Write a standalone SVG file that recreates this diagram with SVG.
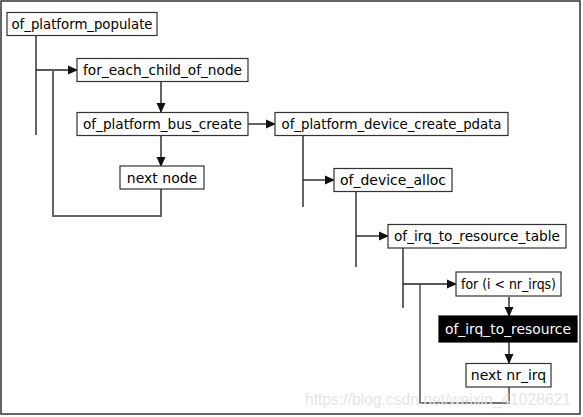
<svg xmlns="http://www.w3.org/2000/svg" width="583" height="417" viewBox="0 0 583 417">
<defs>
<marker id="ah" markerWidth="10" markerHeight="10" refX="9" refY="5" orient="auto" markerUnits="userSpaceOnUse">
<path d="M0,0.5 L10,5 L0,9.5 Z" fill="#111"/>
</marker>
<style>
.box{fill:#fff;stroke:#333;stroke-width:1.2}
.dark{fill:#000;stroke:#000}
.t{font-family:"DejaVu Sans","Liberation Sans",sans-serif;font-size:14px;fill:#000;text-anchor:middle;dominant-baseline:central}
.w{fill:#fff}
.c{fill:none;stroke:#444;stroke-width:1.4}
.g{fill:none;stroke:#666;stroke-width:2}
.a{fill:none;stroke:#222;stroke-width:1.4;marker-end:url(#ah)}
.wm{font-family:"Liberation Sans",Arial,sans-serif;font-size:16px;fill:#e6e6e6}
</style>
</defs>
<rect x="1" y="1" width="579" height="413" fill="#fff" stroke="#333" stroke-width="1.5"/>
<g id="connectors">
<path class="g" d="M36,36 V135"/>
<path class="a" d="M36,70 H77"/>
<path class="g" d="M53,70 V216 H161 V189"/>
<path class="a" d="M161,82 V112"/>
<path class="a" d="M161,136 V166"/>
<path class="a" d="M248,124 H275"/>
<path class="g" d="M303,136 V207"/>
<path class="a" d="M303,180 H334"/>
<path class="g" d="M356,192 V267"/>
<path class="a" d="M356,236 H388"/>
<path class="g" d="M403,248 V308"/>
<path class="a" d="M403,284 H456"/>
<path class="c" d="M420,284 V403 H509 V387"/>
<path class="a" d="M509,297 V316"/>
<path class="a" d="M509,342 V363"/>
</g>
<g id="of_platform_populate"><rect class="box" x="7" y="12.5" width="150" height="23"/><text class="t" x="82" y="24" textLength="141" lengthAdjust="spacingAndGlyphs">of_platform_populate</text></g>
<g id="for_each_child_of_node"><rect class="box" x="77" y="58.5" width="171" height="23"/><text class="t" x="162.5" y="70" textLength="159" lengthAdjust="spacingAndGlyphs">for_each_child_of_node</text></g>
<g id="of_platform_bus_create"><rect class="box" x="77" y="112.5" width="171" height="23"/><text class="t" x="162.5" y="124" textLength="159" lengthAdjust="spacingAndGlyphs">of_platform_bus_create</text></g>
<g id="next_node"><rect class="box" x="120" y="166" width="84" height="23"/><text class="t" x="162" y="177.5">next node</text></g>
<g id="of_platform_device_create_pdata"><rect class="box" x="275" y="112.5" width="233" height="23"/><text class="t" x="391.5" y="124" textLength="220" lengthAdjust="spacingAndGlyphs">of_platform_device_create_pdata</text></g>
<g id="of_device_alloc"><rect class="box" x="334" y="168.5" width="118" height="23"/><text class="t" x="393" y="180">of_device_alloc</text></g>
<g id="of_irq_to_resource_table"><rect class="box" x="388" y="224.5" width="178" height="23.5"/><text class="t" x="477" y="236" textLength="166" lengthAdjust="spacingAndGlyphs">of_irq_to_resource_table</text></g>
<g id="for_loop"><rect class="box" x="456" y="272" width="105" height="24"/><text class="t" x="508.5" y="284" textLength="95" lengthAdjust="spacingAndGlyphs">for (i &lt; nr_irqs)</text></g>
<g id="of_irq_to_resource"><rect class="box dark" x="439" y="316" width="138" height="26"/><text class="t w" x="508" y="329" textLength="126" lengthAdjust="spacingAndGlyphs">of_irq_to_resource</text></g>
<g id="next_nr_irq"><rect class="box" x="466" y="363.5" width="85" height="23.5"/><text class="t" x="508.5" y="375">next nr_irq</text></g>
<text class="wm" x="305" y="405" textLength="266" lengthAdjust="spacingAndGlyphs">https://blog.csdn.net/weixin_41028621</text>
</svg>
